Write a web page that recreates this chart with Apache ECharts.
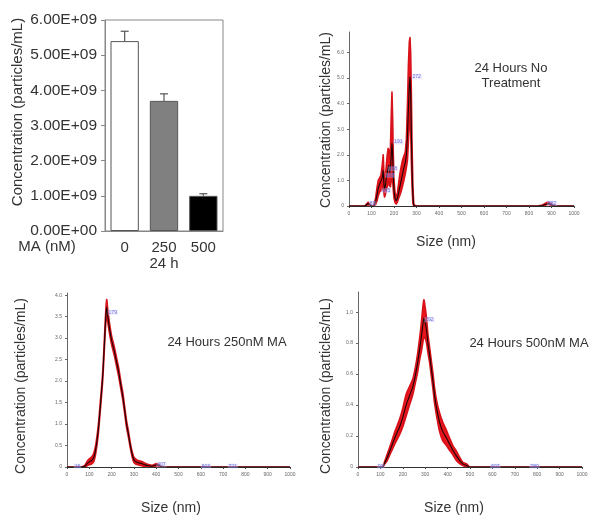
<!DOCTYPE html>
<html>
<head>
<meta charset="utf-8">
<script src="https://cdn.jsdelivr.net/npm/echarts@6/dist/echarts.min.js"></script>
<style>html,body{margin:0;padding:0;background:#fff;}#c{width:604px;height:525px;}</style>
</head>
<body>
<div id="c"></div>
<script>
// ---- Panel A: bar chart ----
const barCategories = ['0', '250\n24 h', '500'];
const barValues = [5.4e9, 3.7e9, 1.0e9];
const barErrors = [0.28e9, 0.2e9, 0.06e9];
const barTicks = [0, 1e9, 2e9, 3e9, 4e9, 5e9, 6e9];

// ---- Panel B: 24 Hours No Treatment ----
const size2 = [0, 70, 78, 85, 92, 100, 110, 118, 125, 130, 136, 142, 148, 152, 155, 158, 162, 166, 170, 174, 177, 180, 184, 188, 191, 194, 197, 200, 205, 210, 215, 220, 226, 232, 238, 244, 250, 255, 260, 264, 268, 271, 274, 277, 280, 284, 288, 300, 840, 860, 872, 880, 888, 896, 905, 920, 1000];
const mean2 = [0, 0, 0.05, 0.1, 0.05, 0, 0, 0.15, 0.45, 0.7, 0.85, 0.9, 1.1, 1.4, 0.9, 0.65, 0.8, 1.1, 1.3, 1.5, 1.6, 1.3, 1.4, 2.0, 2.45, 2.0, 1.2, 0.6, 0.3, 0.2, 0.3, 0.5, 0.75, 1.0, 1.25, 1.5, 1.7, 2.0, 2.8, 3.8, 4.7, 5.05, 4.4, 3.0, 1.5, 0.4, 0, 0, 0, 0.02, 0.06, 0.1, 0.1, 0.06, 0.02, 0, 0];
const upper2 = [0, 0, 0.08, 0.15, 0.08, 0, 0.02, 0.3, 0.75, 1.0, 1.1, 1.2, 1.6, 2.0, 1.35, 1.0, 1.15, 1.6, 2.0, 2.25, 2.2, 1.85, 2.2, 3.6, 4.45, 3.4, 2.0, 1.0, 0.5, 0.35, 0.5, 0.85, 1.25, 1.55, 1.8, 1.95, 2.1, 2.6, 4.0, 5.5, 6.4, 6.58, 6.0, 4.5, 2.5, 0.8, 0.05, 0, 0, 0.04, 0.1, 0.14, 0.14, 0.1, 0.04, 0, 0];
const lower2 = [0, 0, 0.02, 0.05, 0.02, 0, 0, 0.05, 0.22, 0.4, 0.55, 0.6, 0.65, 0.85, 0.5, 0.35, 0.45, 0.65, 0.75, 0.9, 0.95, 0.8, 0.75, 1.0, 1.2, 1.0, 0.6, 0.3, 0.12, 0.08, 0.15, 0.28, 0.42, 0.58, 0.78, 1.0, 1.25, 1.5, 1.8, 2.5, 3.2, 3.6, 3.0, 1.8, 0.8, 0.1, 0, 0, 0, 0.01, 0.03, 0.06, 0.06, 0.03, 0.01, 0, 0];
const peakSize2 = [88, 142, 160, 172, 196, 278, 880];
const peakValue2 = [0.1, 0.6, 1.2, 1.45, 2.5, 5.05, 0.1];
const peakText2 = ['83', '145', '165', '178', '191', '272', '882'];

// ---- Panel C: 24 Hours 250nM MA ----
const size3 = [0, 60, 80, 90, 100, 110, 120, 130, 140, 150, 160, 168, 174, 178, 182, 190, 200, 212, 222, 232, 240, 250, 258, 267, 276, 284, 292, 300, 310, 320, 335, 350, 365, 380, 390, 400, 410, 420, 440, 480, 1000];
const mean3 = [0, 0, 0.02, 0.08, 0.12, 0.15, 0.22, 0.45, 0.85, 1.45, 2.1, 2.9, 3.5, 3.72, 3.55, 3.25, 2.95, 2.7, 2.45, 2.2, 1.95, 1.65, 1.35, 1.0, 0.75, 0.5, 0.3, 0.17, 0.12, 0.1, 0.08, 0.05, 0.03, 0.02, 0.03, 0.05, 0.04, 0.01, 0, 0, 0];
const spread3 = [0, 0, 0.02, 0.05, 0.07, 0.08, 0.1, 0.1, 0.1, 0.1, 0.1, 0.12, 0.15, 0.18, 0.15, 0.12, 0.1, 0.1, 0.1, 0.1, 0.09, 0.09, 0.08, 0.08, 0.07, 0.06, 0.06, 0.06, 0.06, 0.05, 0.05, 0.04, 0.03, 0.02, 0.02, 0.03, 0.02, 0.01, 0, 0, 0];
const peakSize3 = [30, 182, 400, 600, 720];
const peakValue3 = [0.02, 3.6, 0.05, 0.02, 0.02];
const peakText3 = ['16', '179', '407', '603', '721'];

// ---- Panel D: 24 Hours 500nM MA ----
const size4 = [0, 100, 111, 120, 130, 149, 165, 186, 200, 215, 230, 245, 257, 267, 275, 282, 288, 294, 300, 306, 312, 320, 327, 335, 342, 352, 364, 378, 394, 408, 423, 440, 455, 468, 485, 498, 520, 1000];
const mean4 = [0, 0, 0, 0.03, 0.06, 0.13, 0.19, 0.26, 0.32, 0.4, 0.46, 0.52, 0.6, 0.68, 0.76, 0.83, 0.9, 0.96, 0.93, 0.88, 0.8, 0.72, 0.64, 0.55, 0.46, 0.37, 0.29, 0.23, 0.19, 0.15, 0.11, 0.07, 0.04, 0.02, 0.01, 0, 0, 0];
const spread4 = [0, 0, 0, 0.01, 0.02, 0.03, 0.04, 0.05, 0.06, 0.07, 0.06, 0.05, 0.05, 0.06, 0.07, 0.09, 0.11, 0.12, 0.1, 0.08, 0.06, 0.05, 0.05, 0.05, 0.05, 0.05, 0.06, 0.06, 0.05, 0.04, 0.03, 0.03, 0.02, 0.01, 0.01, 0, 0, 0];
const peakSize4 = [85, 296, 590, 765];
const peakValue4 = [0.005, 0.95, 0.005, 0.005];
const peakText4 = ['93', '292', '607', '780'];

const yTicks2 = [0, 1, 2, 3, 4, 5, 6];
const yTicks3 = [0, 0.5, 1, 1.5, 2, 2.5, 3, 3.5, 4];
const yTicks4 = [0, 0.2, 0.4, 0.6, 0.8, 1.0];

// ---------- build ----------
const FONT = '"Liberation Sans", Arial, sans-serif';
const RED = '#e8141c';

function pairs(xs, ys) { return xs.map((x, i) => [x, ys[i]]); }

function bandSeries(idx, xs, lo, hi, mean, smooth) {
  return [
    { type: 'custom', xAxisIndex: idx, yAxisIndex: idx, silent: true, clip: true, z: 3,
      data: xs.map((x, i) => [x, lo[i], hi[i]]),
      renderItem: function (params, api) {
        if (params.dataIndex !== 0) return null;
        const pts = [];
        for (let i = 0; i < xs.length; i++) pts.push(api.coord([xs[i], hi[i]]));
        for (let i = xs.length - 1; i >= 0; i--) pts.push(api.coord([xs[i], lo[i]]));
        return { type: 'polygon', shape: { points: pts, smooth: smooth ? 0.25 : 0 },
          style: { fill: RED, stroke: '#d8121a', lineWidth: 1.6, lineJoin: 'round' } };
      } },
    { type: 'line', xAxisIndex: idx, yAxisIndex: idx, data: pairs(xs, mean),
      symbol: 'none', smooth: smooth, lineStyle: { color: '#1a0505', width: 1.1 }, silent: true, z: 5 }
  ];
}

function peakSeries(idx, xs, ys, texts) {
  return {
    type: 'scatter', xAxisIndex: idx, yAxisIndex: idx, symbolSize: 0, z: 6,
    data: xs.map((x, i) => ({ value: [x, ys[i]], name: texts[i] })),
    label: { show: true, position: 'right', distance: 0, formatter: p => p.name, fontSize: 5,
      color: '#5050d8', backgroundColor: 'rgba(200,200,250,0.45)', padding: [0, 1], fontFamily: FONT },
    silent: true
  };
}

function tickFmt(step) {
  return function (v) {
    const k = v / step;
    if (Math.abs(k - Math.round(k)) > 1e-6) return '';
    return v === 0 ? '0' : v.toFixed(1);
  };
}

function smallX(idx) {
  return { type: 'value', gridIndex: idx, min: 0, max: 1000, interval: 100,
    axisLine: { lineStyle: { color: '#333', width: 1.2 } },
    axisTick: { show: true, length: 2, lineStyle: { color: '#444' } },
    axisLabel: { fontSize: 5, color: '#666', margin: 5, fontFamily: FONT, formatter: v => String(v) },
    splitLine: { show: false } };
}
function smallY(idx, max, step, ticks) {
  return { type: 'value', gridIndex: idx, min: 0, max: max, interval: step,
    axisLine: { show: true, lineStyle: { color: '#666', width: 1 } },
    axisTick: { show: true, length: 2, lineStyle: { color: '#666' }, customValues: ticks },
    axisLabel: { fontSize: 5, color: '#666', margin: 5, fontFamily: FONT, formatter: tickFmt(step), customValues: ticks },
    splitLine: { show: false } };
}

const errData = barValues.map((v, i) => [i, v, v + barErrors[i]]);

function txt(x, y, s, size, rot) {
  return { type: 'text', x: x, y: y, rotation: rot || 0, silent: true, z: 100,
    style: { text: s, font: size + 'px ' + FONT, fill: '#333', align: 'center', verticalAlign: 'middle' } };
}

const option = {
  animation: false,
  backgroundColor: '#fff',
  grid: [
    { left: 105, top: 20, width: 118, height: 211, show: true, borderColor: '#888', borderWidth: 1 },
    { left: 349, top: 32, width: 225, height: 174 },
    { left: 67, top: 293, width: 223, height: 174 },
    { left: 358, top: 292, width: 224, height: 175 }
  ],
  xAxis: [
    { type: 'category', gridIndex: 0, data: barCategories,
      axisLine: { lineStyle: { color: '#888' } }, axisTick: { show: false },
      axisLabel: { interval: 0, hideOverlap: false, fontSize: 15, color: '#333', margin: 9, lineHeight: 16, fontFamily: FONT } },
    smallX(1), smallX(2), smallX(3)
  ],
  yAxis: [
    { type: 'value', gridIndex: 0, min: 0, max: 6e9, interval: 1e9,
      axisLine: { show: true, lineStyle: { color: '#888' } },
      axisTick: { show: true, length: 4, lineStyle: { color: '#888' } },
      axisLabel: { fontSize: 15.5, color: '#333', margin: 8, fontFamily: FONT,
        formatter: v => v === 0 ? '0.00E+00' : (v / 1e9).toFixed(2) + 'E+09' },
      splitLine: { show: false } },
    smallY(1, 6.8, 1, yTicks2),
    smallY(2, 4.05, 0.5, yTicks3),
    smallY(3, 1.13, 0.2, yTicks4)
  ],
  series: [
    { type: 'bar', xAxisIndex: 0, yAxisIndex: 0, barWidth: '72%',
      data: barValues.map((v, i) => ({ value: v, itemStyle: { color: ['#ffffff', '#808080', '#000000'][i] } })),
      itemStyle: { borderColor: '#555', borderWidth: 1 }, silent: true },
    { type: 'custom', xAxisIndex: 0, yAxisIndex: 0, data: errData, silent: true, z: 5,
      renderItem: function (params, api) {
        const top = api.coord([api.value(0), api.value(2)]);
        const base = api.coord([api.value(0), api.value(1)]);
        const hw = 4;
        return { type: 'group', children: [
          { type: 'line', shape: { x1: top[0], y1: base[1], x2: top[0], y2: top[1] }, style: { stroke: '#555', lineWidth: 1.2 } },
          { type: 'line', shape: { x1: top[0] - hw, y1: top[1], x2: top[0] + hw, y2: top[1] }, style: { stroke: '#555', lineWidth: 1.2 } }
        ] };
      } },
    ...bandSeries(1, size2, lower2, upper2, mean2, false),
    ...bandSeries(2, size3, mean3.map((m, i) => Math.max(0, m - spread3[i])), mean3.map((m, i) => m + spread3[i]), mean3, 0.3),
    ...bandSeries(3, size4, mean4.map((m, i) => Math.max(0, m - spread4[i])), mean4.map((m, i) => m + spread4[i]), mean4, 0.3),
    peakSeries(1, peakSize2, peakValue2, peakText2),
    peakSeries(2, peakSize3, peakValue3, peakText3),
    peakSeries(3, peakSize4, peakValue4, peakText4)
  ],
  graphic: [
    txt(18, 112, 'Concentration (particles/mL)', 15, Math.PI / 2),
    txt(47, 247, 'MA (nM)', 15),
    txt(326, 120, 'Concentration (particles/mL)', 14, Math.PI / 2),
    txt(446, 242, 'Size (nm)', 14),
    txt(511, 68, '24 Hours No', 13),
    txt(511, 83, 'Treatment', 13),
    txt(21, 386, 'Concentration (particles/mL)', 14, Math.PI / 2),
    txt(171, 508, 'Size (nm)', 14),
    txt(227, 342, '24 Hours 250nM MA', 13),
    txt(326, 386, 'Concentration (particles/mL)', 14, Math.PI / 2),
    txt(454, 508, 'Size (nm)', 14),
    txt(529, 343, '24 Hours 500nM MA', 13)
  ]
};

const chart = echarts.init(document.getElementById('c'), null, { renderer: 'canvas' });
chart.setOption(option);
</script>
</body>
</html>
